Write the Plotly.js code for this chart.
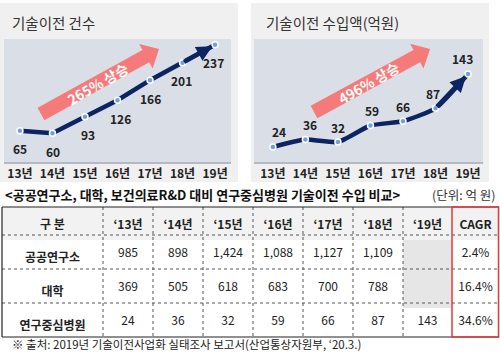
<!DOCTYPE html>
<html>
<head>
<meta charset="utf-8">
<script src="https://cdn.plot.ly/plotly-3.0.1.min.js"></script>
<style>html,body{margin:0;padding:0;background:#fff;}#chart{width:500px;height:357px;}</style>
</head>
<body>
<div id="chart"></div>
<script>
// ---------------- data ----------------
const years = ['13년', '14년', '15년', '16년', '17년', '18년', '19년'];
const transferCount = [65, 60, 93, 126, 166, 201, 237];
const transferIncome = [24, 36, 32, 59, 66, 87, 143];
const countGrowthText = '265% 상승';
const incomeGrowthText = '496% 상승';
const countTitle = '기술이전 건수';
const incomeTitle = '기술이전 수입액(억원)';

const tableTitle = '<공공연구소, 대학, 보건의료R&D 대비 연구중심병원 기술이전 수입 비교>';
const tableUnit = '(단위: 억 원)';
const tableHeaders = ['구 분', '‘13년', '‘14년', '‘15년', '‘16년', '‘17년', '‘18년', '‘19년', 'CAGR'];
const rowLabels = ['공공연구소', '대학', '연구중심병원'];
const publicInst = [985, 898, 1424, 1088, 1127, 1109, null];
const university = [369, 505, 618, 683, 700, 788, null];
const researchHosp = [24, 36, 32, 59, 66, 87, 143];
const cagr = ['2.4%', '16.4%', '34.6%'];
const footnote = '※ 출처: 2019년 기술이전사업화 실태조사 보고서(산업통상자원부, ‘20.3.)';

// label nudges (style only, pixels)
const countLabelDx = [0, 1, 3, 3, 0, -1, -2];
const incomeLabelDx = [6, 5, 0, 2, 0, -3, -6];

// ---------------- helpers ----------------
const W = 500, H = 357;
const X = px => px / W;
const Y = py => 1 - py / H;
const FONT = '"Noto Sans CJK KR", "Noto Sans", sans-serif';
const NAVY = '#0c2462';
const idx = years.map((_, i) => i);

function blockArrow(tail, tip, bodyHalf, headHalf, headLen) {
  const dx = tip[0] - tail[0], dy = tip[1] - tail[1];
  const L = Math.hypot(dx, dy);
  const ux = dx / L, uy = dy / L;
  const nx = -uy, ny = ux;
  const bx = tip[0] - ux * headLen, by = tip[1] - uy * headLen;
  const pts = [
    [tail[0] + nx * bodyHalf, tail[1] + ny * bodyHalf],
    [bx + nx * bodyHalf, by + ny * bodyHalf],
    [bx + nx * headHalf, by + ny * headHalf],
    [tip[0], tip[1]],
    [bx - nx * headHalf, by - ny * headHalf],
    [bx - nx * bodyHalf, by - ny * bodyHalf],
    [tail[0] - nx * bodyHalf, tail[1] - ny * bodyHalf]
  ];
  return 'M' + pts.map(p => X(p[0]).toFixed(5) + ',' + Y(p[1]).toFixed(5)).join(' L') + ' Z';
}
function rect(x0, y0, x1, y1, fill) {
  return {type: 'rect', xref: 'paper', yref: 'paper', x0: X(x0), x1: X(x1), y0: Y(y1), y1: Y(y0),
          fillcolor: fill, line: {width: 0}, layer: 'below'};
}
function hline(y, x0, x1, color, dash, width) {
  return {type: 'line', xref: 'paper', yref: 'paper', x0: X(x0), x1: X(x1), y0: Y(y), y1: Y(y),
          line: {color: color, dash: dash, width: width}, layer: 'above'};
}
function vline(x, y0, y1, color, dash, width) {
  return {type: 'line', xref: 'paper', yref: 'paper', x0: X(x), x1: X(x), y0: Y(y0), y1: Y(y1),
          line: {color: color, dash: dash, width: width}, layer: 'above'};
}
function label(px, py, text, size, color, extra) {
  return Object.assign({xref: 'paper', yref: 'paper', x: X(px), y: Y(py), xanchor: 'left', yanchor: 'middle',
    showarrow: false, text: text, font: {family: FONT, size: size, color: color}}, extra || {});
}
const fmt = v => (v === null || v === undefined) ? '' : v.toLocaleString('en-US');

// ---------------- traces ----------------
const lineCommon = {
  type: 'scatter', mode: 'lines+markers', hoverinfo: 'skip', cliponaxis: false,
  marker: {size: 6, color: '#6f9fe0', line: {color: '#ffffff', width: 1.5}}
};
const traces = [
  Object.assign({}, lineCommon, {x: idx, y: transferCount, xaxis: 'x', yaxis: 'y',
    line: {color: NAVY, width: 4.5}}),
  Object.assign({}, lineCommon, {x: idx, y: transferIncome, xaxis: 'x2', yaxis: 'y2',
    line: {color: NAVY, width: 4.5, shape: 'spline', smoothing: 0.5}})
];

// table
const tableTop = 207, headerH = 28, rowH = 34;
const colWidths = [101, 50, 50, 50, 50, 50, 50, 49, 47];
const tableLeft = 2, tableRight = 499;
const tableCols = [rowLabels.map(s => '<b>' + s + '</b>')];
for (let i = 0; i < 7; i++) {
  tableCols.push([fmt(publicInst[i]), fmt(university[i]), fmt(researchHosp[i])]);
}
tableCols.push(cagr);
const rowsData = [publicInst, university, researchHosp];
const fillCols = tableCols.map((col, c) => col.map((_, r) =>
  (c >= 1 && c <= 7 && rowsData[r][c - 1] === null) ? '#e6e6e6' : '#ffffff'));
const tableBottom = tableTop + headerH + rowH * rowLabels.length;
traces.push({
  type: 'table',
  domain: {x: [X(tableLeft), X(tableRight)], y: [Y(tableBottom + 2), Y(tableTop)]},
  columnwidth: colWidths,
  header: {
    values: tableHeaders.map(h => '<b>' + h + '</b>'),
    height: headerH, align: 'center',
    fill: {color: '#f2f2f2'},
    line: {width: 0, color: 'rgba(0,0,0,0)'},
    font: {family: FONT, size: 12, color: '#222'}
  },
  cells: {
    values: tableCols,
    height: rowH, align: 'center',
    fill: {color: fillCols},
    line: {width: 0, color: 'rgba(0,0,0,0)'},
    font: {family: FONT, size: 12, color: '#222'}
  }
});

// ---------------- shapes ----------------
const shapes = [
  rect(0, 3, 238, 182, '#f0f0f0'),
  rect(251, 3, 489, 182, '#f0f0f0'),
  rect(4, 39, 231, 162, '#d9dee7'),
  rect(254, 39, 483, 162, '#d9dee7'),
  {type: 'path', xref: 'paper', yref: 'paper', layer: 'below', line: {width: 0}, fillcolor: '#f67a7a',
   path: blockArrow([41, 114], [159, 49], 7, 14, 15)},
  {type: 'path', xref: 'paper', yref: 'paper', layer: 'below', line: {width: 0}, fillcolor: '#f67a7a',
   path: blockArrow([314, 112], [430, 49], 7, 14, 15)}
];
// table grid lines
let cx = tableLeft;
const colEdges = [tableLeft];
colWidths.forEach(w => { cx += w; colEdges.push(cx); });
for (let r = 1; r <= rowLabels.length; r++) {
  shapes.push(hline(tableTop + headerH + rowH * (r - 1), tableLeft, tableRight, '#555', 'dot', 1));
}
for (let c = 1; c < colEdges.length - 2; c++) {
  shapes.push(vline(colEdges[c], tableTop, tableBottom, '#555', 'dot', 1));
}
shapes.push(hline(tableTop, tableLeft, tableRight, '#222', 'solid', 1.2));
shapes.push(hline(tableBottom, tableLeft, tableRight, '#222', 'solid', 1.2));
shapes.push(vline(tableLeft, tableTop, tableBottom, '#222', 'solid', 1.2));
shapes.push({type: 'rect', xref: 'paper', yref: 'paper', layer: 'above',
  x0: X(colEdges[colEdges.length - 2]), x1: X(tableRight - 0.5), y0: Y(tableBottom), y1: Y(tableTop),
  line: {color: '#e8383d', width: 1.5}, fillcolor: 'rgba(0,0,0,0)'});

// ---------------- annotations ----------------
const annotations = [
  label(10, 22, countTitle, 14.5, '#333'),
  label(264, 22, incomeTitle, 14.5, '#333'),
  label(97, 84, '<b>' + countGrowthText + '</b>', 14, '#ffffff', {xanchor: 'center', textangle: -30}),
  label(368, 83, '<b>' + incomeGrowthText + '</b>', 14, '#ffffff', {xanchor: 'center', textangle: -30}),
  label(3, 195, '<b>' + tableTitle.replace(/</g, '&lt;').replace(/>/g, '&gt;') + '</b>', 13, '#111'),
  label(498, 195, tableUnit, 12.5, '#333', {xanchor: 'right'}),
  label(10, 344, footnote, 11.5, '#222')
];
transferCount.forEach((v, i) => annotations.push({
  xref: 'x', yref: 'y', x: idx[i], y: v, yshift: -18, xshift: countLabelDx[i],
  xanchor: 'center', yanchor: 'middle', showarrow: false,
  text: '<b>' + v + '</b>', font: {family: FONT, size: 12, color: '#222'}
}));
transferIncome.forEach((v, i) => annotations.push({
  xref: 'x2', yref: 'y2', x: idx[i], y: v, yshift: 15, xshift: incomeLabelDx[i],
  xanchor: 'center', yanchor: 'middle', showarrow: false,
  text: '<b>' + v + '</b>', font: {family: FONT, size: 12, color: '#222'}
}));
const last = years.length - 1;
annotations.push({xref: 'x', yref: 'y', axref: 'x', ayref: 'y', x: idx[last], y: transferCount[last],
  ax: idx[last - 1], ay: transferCount[last - 1], text: '', showarrow: true,
  arrowhead: 2, arrowsize: 0.7, arrowwidth: 4.5, arrowcolor: NAVY, standoff: 3});
annotations.push({xref: 'x2', yref: 'y2', axref: 'x2', ayref: 'y2', x: idx[last], y: transferIncome[last],
  ax: idx[last - 1], ay: transferIncome[last - 1], text: '', showarrow: true,
  arrowhead: 2, arrowsize: 0.7, arrowwidth: 4.5, arrowcolor: NAVY, standoff: 3});

// ---------------- layout ----------------
const xCommon = {
  tickvals: idx, ticktext: years, showgrid: false, zeroline: false,
  showline: true, linecolor: '#b5b9c1', linewidth: 2, ticks: '',
  tickfont: {family: FONT, size: 12, color: '#222', weight: 'bold'}, fixedrange: true
};
const layout = {
  width: W, height: H, margin: {l: 0, r: 0, t: 0, b: 0},
  paper_bgcolor: '#ffffff', plot_bgcolor: 'rgba(0,0,0,0)', showlegend: false,
  xaxis: Object.assign({}, xCommon, {domain: [X(4), X(231)], range: [-0.49, 6.49], anchor: 'y'}),
  yaxis: {domain: [Y(162), Y(39)], range: [2.4, 248.4], visible: false, fixedrange: true, anchor: 'x'},
  xaxis2: Object.assign({}, xCommon, {domain: [X(254), X(483)], range: [-0.58, 6.46], anchor: 'y2'}),
  yaxis2: {domain: [Y(162), Y(39)], range: [-0.5, 200], visible: false, fixedrange: true, anchor: 'x2'},
  shapes: shapes,
  annotations: annotations
};

Plotly.newPlot('chart', traces, layout, {staticPlot: true, displayModeBar: false});
</script>
</body>
</html>
